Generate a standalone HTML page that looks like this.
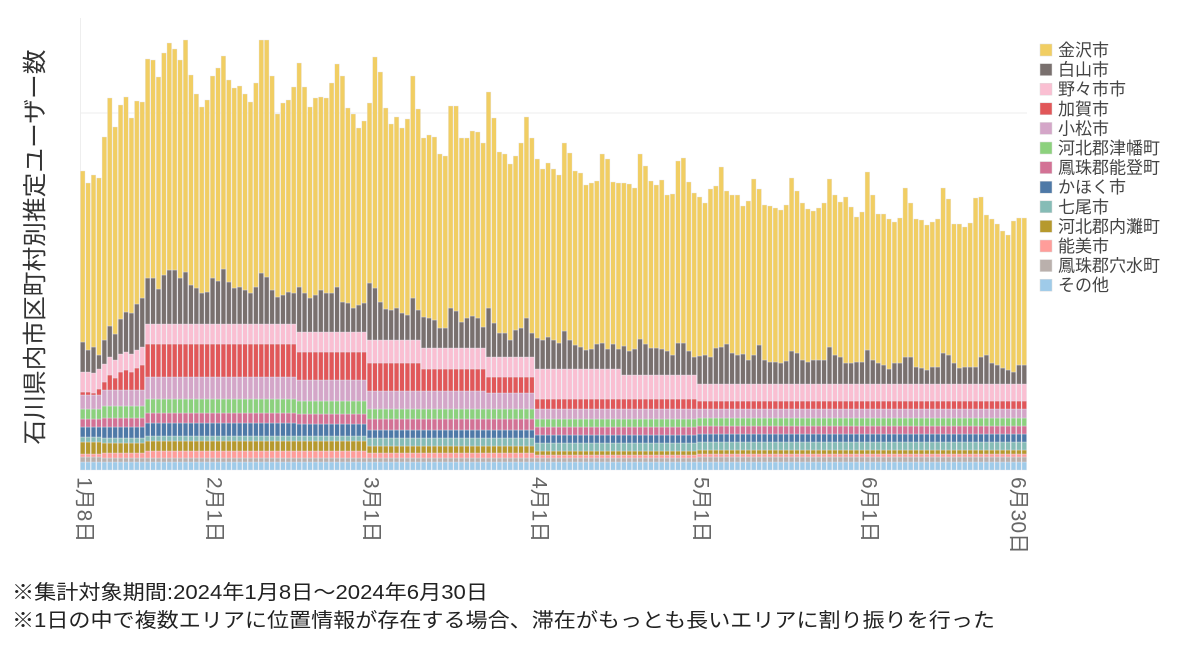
<!DOCTYPE html>
<html><head><meta charset="utf-8">
<style>
html,body{margin:0;padding:0;background:#fff;}
body{width:1200px;height:650px;overflow:hidden;font-family:"Liberation Sans","Noto Sans CJK JP",sans-serif;}
</style></head>
<body>
<svg id="chart" width="1200" height="650" xmlns="http://www.w3.org/2000/svg" style="font-family:'Liberation Sans','Noto Sans CJK JP',sans-serif">
<line x1="80" y1="113" x2="1027" y2="113" stroke="#eeeeee" stroke-width="1"/>
<line x1="80.5" y1="18" x2="80.5" y2="470" stroke="#eeeeee" stroke-width="1"/>
<g id="bars"></g>
<g id="xlabels"></g>
<text transform="translate(43,247) rotate(-90)" text-anchor="middle" font-size="24" fill="#333" textLength="395" lengthAdjust="spacingAndGlyphs">石川県内市区町村別推定ユーザー数</text>
<g id="legend"></g>
<text x="12" y="599" font-size="20" fill="#222" textLength="476" lengthAdjust="spacingAndGlyphs">※集計対象期間:2024年1月8日～2024年6月30日</text>
<text x="12" y="627" font-size="20" fill="#222" textLength="983" lengthAdjust="spacingAndGlyphs">※1日の中で複数エリアに位置情報が存在する場合、滞在がもっとも長いエリアに割り振りを行った</text>
</svg>
<script>
// Phases (bars): A4 B8 C28 D13 E10 F12 G9 H16 I14 J61
const seriesNames = ["その他","鳳珠郡穴水町","能美市","河北郡内灘町","七尾市","かほく市","鳳珠郡能登町","河北郡津幡町","小松市","加賀市","野々市市","白山市","金沢市"];
const seriesColors = ["#9fcbe9","#bab0ac","#ff9d9a","#b6992d","#86bcb6","#4e79a7","#d37295","#8cd17d","#d4a6c8","#e15759","#fabfd2","#79706e","#f1ce63"];
const other = [8,8,8,8, 8,8,8,8,8,8,8,8,
8,8,8,8,8,8,8,8,8,8,8,8,8,8,8,8,8,8,8,8,8,8,8,8,8,8,8,8,
8,8,8,8,8,8,8,8,8,8,8,8,8,
8,8,8,8,8,8,8,8,8,8,
8,8,8,8,8,8,8,8,8,8,8,8,
8,8,8,8,8,8,8,8,8,
8,8,8,8,8,8,8,8,8,8,8,8,8,8,8,8,
8,8,8,8,8,8,8,8,8,8,8,8,8,8,
8,8,8,8,8,8,8,8,8,8,8,8,8,8,8,8,8,8,8,8,8,8,8,8,8,8,8,8,8,8,8,8,8,8,8,8,8,8,8,8,8,8,8,8,8,8,8,8,8,8,8,8,8,8,8,8,8,8,8,8,8];
const anamizu = [5,5,5,5, 4,4,4,4,4,4,4,4,
4,4,4,4,4,4,4,4,4,4,4,4,4,4,4,4,4,4,4,4,4,4,4,4,4,4,4,4,
4,4,4,4,4,4,4,4,4,4,4,4,4,
4,4,4,4,4,4,4,4,4,4,
4,4,4,4,4,4,4,4,4,4,4,4,
4,4,4,4,4,4,4,4,4,
4,4,4,4,4,4,4,4,4,4,4,4,4,4,4,4,
4,4,4,4,4,4,4,4,4,4,4,4,4,4,
5,5,5,5,5,5,5,5,5,5,5,5,5,5,5,5,5,5,5,5,5,5,5,5,5,5,5,5,5,5,5,5,5,5,5,5,5,5,5,5,5,5,5,5,5,5,5,5,5,5,5,5,5,5,5,5,5,5,5,5,5];
const nomi = [3,3,3,3, 5,5,5,5,5,5,5,5,
7,7,7,7,7,7,7,7,7,7,7,7,7,7,7,7,7,7,7,7,7,7,7,7,7,7,7,7,
7,7,7,7,7,7,7,7,7,7,7,7,7,
5,5,5,5,5,5,5,5,5,5,
5,5,5,5,5,5,5,5,5,5,5,5,
5,5,5,5,5,5,5,5,5,
3,3,3,3,3,3,3,3,3,3,3,3,3,3,3,3,
3,3,3,3,3,3,3,3,3,3,3,3,3,3,
3,3,3,3,3,3,3,3,3,3,3,3,3,3,3,3,3,3,3,3,3,3,3,3,3,3,3,3,3,3,3,3,3,3,3,3,3,3,3,3,3,3,3,3,3,3,3,3,3,3,3,3,3,3,3,3,3,3,3,3,3];
const uchinada = [12,12,12,12, 10,10,10,10,10,10,10,10,
10,10,10,10,10,10,10,10,10,10,10,10,10,10,10,10,10,10,10,10,10,10,10,10,10,10,10,10,
10,10,10,10,10,10,10,10,10,10,10,10,10,
7,7,7,7,7,7,7,7,7,7,
7,7,7,7,7,7,7,7,7,7,7,7,
7,7,7,7,7,7,7,7,7,
4,4,4,4,4,4,4,4,4,4,4,4,4,4,4,4,
4,4,4,4,4,4,4,4,4,4,4,4,4,4,
4,4,4,4,4,4,4,4,4,4,4,4,4,4,4,4,4,4,4,4,4,4,4,4,4,4,4,4,4,4,4,4,4,4,4,4,4,4,4,4,4,4,4,4,4,4,4,4,4,4,4,4,4,4,4,4,4,4,4,4,4];
const nanao = [5,5,5,5, 5,5,5,5,5,5,5,5,
5,5,5,5,5,5,5,5,5,5,5,5,5,5,5,5,5,5,5,5,5,5,5,5,5,5,5,5,
5,5,5,5,5,5,5,5,5,5,5,5,5,
8,8,8,8,8,8,8,8,8,8,
8,8,8,8,8,8,8,8,8,8,8,8,
8,8,8,8,8,8,8,8,8,
8,8,8,8,8,8,8,8,8,8,8,8,8,8,8,8,
8,8,8,8,8,8,8,8,8,8,8,8,8,8,
8,8,8,8,8,8,8,8,8,8,8,8,8,8,8,8,8,8,8,8,8,8,8,8,8,8,8,8,8,8,8,8,8,8,8,8,8,8,8,8,8,8,8,8,8,8,8,8,8,8,8,8,8,8,8,8,8,8,8,8,8];
const kahoku = [10,10,10,10, 11,11,11,11,11,11,11,11,
13,13,13,13,13,13,13,13,13,13,13,13,13,13,13,13,13,13,13,13,13,13,13,13,13,13,13,13,
12,12,12,12,12,12,12,12,12,12,12,12,12,
8,8,8,8,8,8,8,8,8,8,
8,8,8,8,8,8,8,8,8,8,8,8,
8,8,8,8,8,8,8,8,8,
8,8,8,8,8,8,8,8,8,8,8,8,8,8,8,8,
8,8,8,8,8,8,8,8,8,8,8,8,8,8,
8,8,8,8,8,8,8,8,8,8,8,8,8,8,8,8,8,8,8,8,8,8,8,8,8,8,8,8,8,8,8,8,8,8,8,8,8,8,8,8,8,8,8,8,8,8,8,8,8,8,8,8,8,8,8,8,8,8,8,8,8];
const noto = [8,8,8,8, 9,9,9,9,9,9,9,9,
10,10,10,10,10,10,10,10,10,10,10,10,10,10,10,10,10,10,10,10,10,10,10,10,10,10,10,10,
10,10,10,10,10,10,10,10,10,10,10,10,10,
11,11,11,11,11,11,11,11,11,11,
11,11,11,11,11,11,11,11,11,11,11,11,
11,11,11,11,11,11,11,11,11,
8,8,8,8,8,8,8,8,8,8,8,8,8,8,8,8,
8,8,8,8,8,8,8,8,8,8,8,8,8,8,
8,8,8,8,8,8,8,8,8,8,8,8,8,8,8,8,8,8,8,8,8,8,8,8,8,8,8,8,8,8,8,8,8,8,8,8,8,8,8,8,8,8,8,8,8,8,8,8,8,8,8,8,8,8,8,8,8,8,8,8,8];
const tsubata = [10,10,10,10, 12,12,12,12,12,12,12,12,
14,14,14,14,14,14,14,14,14,14,14,14,14,14,14,14,14,14,14,14,14,14,14,14,14,14,14,14,
13,13,13,13,13,13,13,13,13,13,13,13,13,
10,10,10,10,10,10,10,10,10,10,
10,10,10,10,10,10,10,10,10,10,10,10,
10,10,10,10,10,10,10,10,10,
8,8,8,8,8,8,8,8,8,8,8,8,8,8,8,8,
8,8,8,8,8,8,8,8,8,8,8,8,8,8,
8,8,8,8,8,8,8,8,8,8,8,8,8,8,8,8,8,8,8,8,8,8,8,8,8,8,8,8,8,8,8,8,8,8,8,8,8,8,8,8,8,8,8,8,8,8,8,8,8,8,8,8,8,8,8,8,8,8,8,8,8];
const komatsu = [14,14,14,14, 16,16,16,16,16,16,16,16,
22,22,22,22,22,22,22,22,22,22,22,22,22,22,22,22,22,22,22,22,22,22,22,22,22,22,22,22,
21,21,21,21,21,21,21,21,21,21,21,21,21,
18,18,18,18,18,18,18,18,18,18,
18,18,18,18,18,18,18,18,18,18,18,18,
16,16,16,16,16,16,16,16,16,
10,10,10,10,10,10,10,10,10,10,10,10,10,10,10,10,
10,10,10,10,10,10,10,10,10,10,10,10,10,10,
9,9,9,9,9,9,9,9,9,9,9,9,9,9,9,9,9,9,9,9,9,9,9,9,9,9,9,9,9,9,9,9,9,9,9,9,9,9,9,9,9,9,9,9,9,9,9,9,9,9,9,9,9,9,9,9,9,9,9,9,9];
const kaga = [3,3,2,6, 8,15,12,18,20,18,22,25,
33,33,33,33,33,33,33,33,33,33,33,33,33,33,33,33,33,33,33,33,33,33,33,33,33,33,33,33,
28,28,28,28,28,28,28,28,28,28,28,28,28,
28,28,28,28,28,28,28,28,28,28,
22,22,22,22,22,22,22,22,22,22,22,22,
16,16,16,16,16,16,16,16,16,
10,10,10,10,10,10,10,10,10,10,10,10,10,10,10,10,
10,10,10,10,10,10,10,10,10,10,10,10,10,10,
8,8,8,8,8,8,8,8,8,8,8,8,8,8,8,8,8,8,8,8,8,8,8,8,8,8,8,8,8,8,8,8,8,8,8,8,8,8,8,8,8,8,8,8,8,8,8,8,8,8,8,8,8,8,8,8,8,8,8,8,8];
const nonoichi = [20,20,20,20, 18,18,18,18,18,18,18,18,
20,20,20,20,20,20,20,20,20,20,20,20,20,20,20,20,20,20,20,20,20,20,20,20,20,20,20,20,
20,20,20,20,20,20,20,20,20,20,20,20,20,
23,23,23,23,23,23,23,23,23,23,
21,21,21,21,21,21,21,21,21,21,21,21,
20,20,20,20,20,20,20,20,20,
30,30,30,30,30,30,30,30,30,30,30,30,30,30,30,30,
24,24,24,24,24,24,24,24,24,24,24,24,24,24,
17,17,17,17,17,17,17,17,17,17,17,17,17,17,17,17,17,17,17,17,17,17,17,17,17,17,17,17,17,17,17,17,17,17,17,17,17,17,17,17,17,17,17,17,17,17,17,17,17,17,17,17,17,17,17,17,17,17,17,17,17];
const hakusan = [30,22,26,14, 24,31,26,35,40,41,46,49,
46,46,35,49,54,54,46,52,39,36,31,32,46,43,55,42,36,37,34,31,37,51,47,34,27,29,32,31,
45,39,34,37,42,39,39,45,30,29,24,27,29,
57,52,38,31,30,32,27,25,42,30,
31,30,28,20,20,40,37,26,30,32,30,21,
49,34,24,24,17,27,29,39,24,
31,29,32,29,26,38,29,24,22,19,20,25,26,20,25,20,
29,24,26,36,31,27,27,26,24,20,32,32,24,18,
28,29,27,36,37,40,31,29,30,24,29,39,24,22,22,21,23,33,31,24,22,24,24,24,37,29,27,21,21,22,22,34,24,21,19,15,21,21,27,27,17,16,14,17,17,31,29,21,16,17,17,17,27,29,21,19,16,14,12,19,19];
const kanazawa = [171,167,172,177,203,228,207,214,215,195,203,196,
219,218,212,222,227,221,218,232,210,194,186,192,202,213,213,202,200,201,196,191,204,233,237,214,183,192,192,206,
224,206,191,197,193,195,210,223,226,195,194,177,182,
180,231,230,201,186,191,185,196,222,201,
179,183,183,174,172,202,205,184,180,185,186,184,
216,205,181,179,176,174,185,201,195,
179,171,174,171,168,188,187,174,174,165,166,163,189,190,162,166,
163,167,161,185,178,167,163,169,156,161,182,185,169,164,
159,152,168,162,180,153,158,160,148,159,176,156,155,156,154,153,156,173,162,157,153,149,152,157,168,160,155,166,156,145,150,178,165,149,151,150,141,145,169,154,148,148,145,145,148,165,156,139,144,140,144,169,160,140,144,141,137,135,151,147,147];
const tickLabels = ["1月8日","2月1日","3月1日","4月1日","5月1日","6月1日","6月30日"];
const tickIndex = [0,24,53,84,114,145,174];

const series = [other,anamizu,nomi,uchinada,nanao,kahoku,noto,tsubata,komatsu,kaga,nonoichi,hakusan,kanazawa];
const NS="http://www.w3.org/2000/svg";
const x0=80, x1=1027, y0=470, yTop=20, yMax=450;
const n=kanazawa.length, step=(x1-x0)/n;
function xPos(i){return x0+i*step;}
function yPos(v){return y0-(v/yMax)*(y0-yTop);}
const gBars=document.getElementById('bars');
for(let i=0;i<n;i++){
  let acc=0;
  for(let s=0;s<series.length;s++){
    const v=series[s][i];
    const r=document.createElementNS(NS,'rect');
    
    
    const ya=yPos(acc), yb=yPos(acc+v);
    r.setAttribute('x',(xPos(i)+0.4).toFixed(2));
    r.setAttribute('y',yb.toFixed(2));
    r.setAttribute('width',(step-0.8).toFixed(2));
    r.setAttribute('height',Math.max(0,ya-yb).toFixed(2));
    r.setAttribute('fill',seriesColors[s]);
    r.setAttribute('stroke','rgba(230,230,240,0.7)');
    r.setAttribute('stroke-width','0.5');
    gBars.appendChild(r);
    acc+=v;
  }
}
const gX=document.getElementById('xlabels');
tickLabels.forEach((t,k)=>{
  const cx=xPos(tickIndex[k])+step/2;
  const tx=document.createElementNS(NS,'text');
  
  
  const off = (k===tickLabels.length-1) ? -13 : -5;
  tx.setAttribute('transform','translate('+(cx+off).toFixed(1)+',477) rotate(90)');
  tx.setAttribute('font-size','21');
  tx.setAttribute('fill','#666');
  tx.textContent=t;
  gX.appendChild(tx);
});
const gL=document.getElementById('legend');
for(let k=0;k<seriesNames.length;k++){
  const s=seriesNames.length-1-k;
  const cy=50+k*19.6;
  const sq=document.createElementNS(NS,'rect');
  
  
  sq.setAttribute('x',1040);sq.setAttribute('y',(cy-6).toFixed(1));
  sq.setAttribute('width',12);sq.setAttribute('height',12);
  sq.setAttribute('fill',seriesColors[s]);
  sq.setAttribute('stroke','#ddd');sq.setAttribute('stroke-width','0.5');
  gL.appendChild(sq);
  const tx=document.createElementNS(NS,'text');
  
  
  tx.setAttribute('x',1058);tx.setAttribute('y',(cy+6).toFixed(1));
  tx.setAttribute('font-size','17');tx.setAttribute('fill','#444');
  tx.textContent=seriesNames[s];
  gL.appendChild(tx);
}
</script>
</body></html>
